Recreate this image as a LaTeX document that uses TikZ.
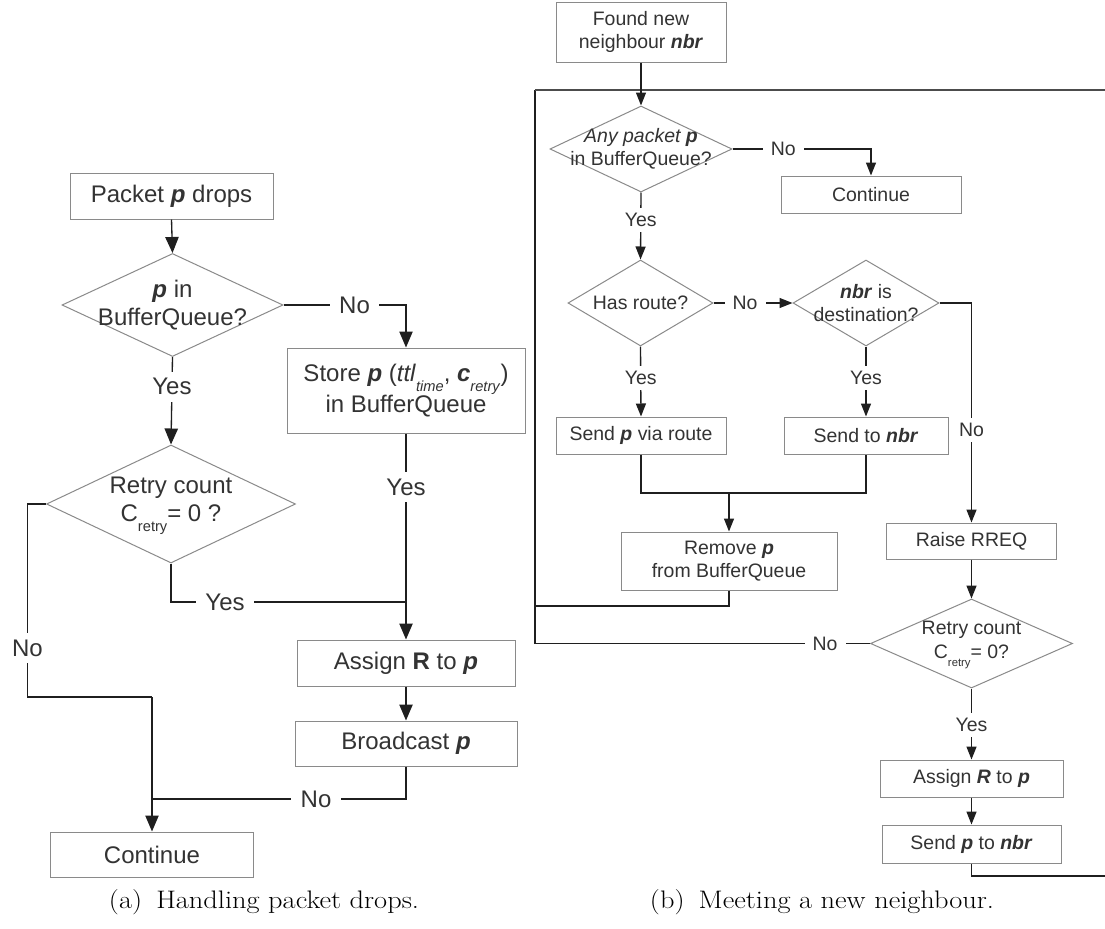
\documentclass[tikz,border=0pt]{standalone}
\usepackage{fontspec}
\newfontfamily\arial{Liberation Sans}
\usetikzlibrary{arrows.meta,shapes.geometric}
\definecolor{txt}{HTML}{333333}
\definecolor{edge}{HTML}{8A8A8A}
\newcommand\bi[1]{\textbf{\textit{#1}}}
\newcommand\lsub[1]{\raisebox{-0.42em}{\fontsize{11}{11}\selectfont #1}}
\newcommand\rsub[1]{\raisebox{-0.42em}{\fontsize{8.5}{8.5}\selectfont #1}}
\newcommand\captext[1]{\scalebox{1.12}[1]{#1}}

\tikzset{
  lfont/.style={font=\arial\fontsize{18}{21}\selectfont},
  rfont/.style={font=\arial\fontsize{14.6}{17.5}\selectfont},
  sz/.style 2 args={minimum width=#1*0.75pt, minimum height=#2*0.75pt},
  box/.style={draw=edge, line width=0.75pt, rectangle, inner sep=0pt, text=txt, align=center},
  dia/.style={draw=edge, line width=0.75pt, diamond, inner sep=0pt},
  dtext/.style={text=txt, align=center, inner sep=0pt},
  conn/.style={draw=black!88, line width=1pt},
  larr/.style={conn, -{Triangle[length=12pt,width=10pt]}},
  rarr/.style={conn, -{Triangle[length=9.75pt,width=7.5pt]}},
  llab/.style={lfont, fill=white, text=txt, inner xsep=7pt, inner ysep=5pt},
  rlab/.style={rfont, fill=white, text=txt, inner xsep=6pt, inner ysep=4pt},
  capt/.style={font=\fontsize{19}{21}\selectfont, inner sep=0pt},
}

\begin{document}
\begin{tikzpicture}[x=0.75pt, y=-0.75pt]
\fill[white] (0,0) rectangle (1105,928);
\useasboundingbox (0,0) rectangle (1105,928);

% ---------- (a) handling packet drops ----------
\node[box, lfont, sz={203}{46}] (pdrop) at (171.5,196) {Packet \bi{p} drops};
\node[dia, sz={221}{103}] (d1) at (172.5,305) {};
\node[dtext, lfont] (d1t) at (d1) {\bi{p} in\\BufferQueue?};
\node[box, lfont, sz={238}{85}] (store) at (406,390.5)
  {Store \bi{p} (\textit{ttl}\lsub{\textit{time}}, \bi{c}\lsub{\textit{retry}})\\in BufferQueue};
\node[dia, sz={249}{118}] (d2) at (171,504) {};
\node[dtext, lfont] (d2t) at (171,506) {Retry count\\C\lsub{retry}= 0 ?};
\node[box, lfont, sz={218}{46}] (assign) at (406,663) {Assign \textbf{R} to \bi{p}};
\node[box, lfont, sz={222}{45}] (bcast) at (406,743.5) {Broadcast \bi{p}};
\node[box, lfont, sz={203}{45}] (cont1) at (152,854.5) {Continue};

\coordinate (nl1) at (27.5,504);
\coordinate (nl2) at (27.5,697);
\coordinate (cj) at (152,697);
\coordinate (yj) at (406,602);

\draw[larr] (pdrop.south) -- (d1.north);
\draw[larr] (d1.east) -| node[llab, pos=0.29] {No} (store.north);
\draw[larr] (d1.south) -- node[llab, pos=0.34] {Yes} (d2.north);
\draw[conn] (d2.south) |- node[llab, pos=0.615] {Yes} (yj);
\draw[larr] (store.south) -- node[llab, pos=0.26] {Yes} (assign.north);
\draw[larr] (assign.south) -- (bcast.north);
\draw[conn] (d2.west) -- (nl1) -- node[llab, pos=0.746] {No} (nl2) -- (cj);
\draw[larr] (cj) -- (cont1.north);
\draw[conn] (bcast.south) |- node[llab, pos=0.677] {No} (cj |- 0,799);

% ---------- (b) meeting a new neighbour ----------
\node[box, rfont, sz={170}{60}] (found) at (641,32) {Found new\\neighbour \bi{nbr}};
\node[dia, sz={182}{86}] (r1) at (641,149) {};
\node[dtext, rfont] (r1t) at (r1) {\textit{Any packet \textbf{p}}\\in BufferQueue?};
\node[box, rfont, sz={180}{37}] (rcont) at (871,194.5) {Continue};
\node[dia, sz={145}{86}] (r2) at (640.5,303) {};
\node[dtext, rfont] (r2t) at (r2) {Has route?};
\node[dia, sz={146}{86}] (r3) at (866,303) {};
\node[dtext, rfont] (r3t) at (r3) {\bi{nbr} is\\destination?};
\node[box, rfont, sz={170}{37}] (via) at (641,435.5) {Send \bi{p} via route};
\node[box, rfont, sz={164}{37}] (sendnbr) at (866,435.5) {Send to \bi{nbr}};
\node[box, rfont, sz={216}{58}] (remove) at (729,561) {Remove \bi{p}\\from BufferQueue};
\node[box, rfont, sz={170}{36}] (rreq) at (971.5,541) {Raise RREQ};
\node[dia, sz={202}{89}] (r4) at (971.5,643.5) {};
\node[dtext, rfont] (r4t) at (971.5,645) {Retry count\\C\rsub{retry}= 0?};
\node[box, rfont, sz={183}{37}] (rassign) at (971.5,778.5) {Assign \bi{R} to \bi{p}};
\node[box, rfont, sz={179}{38}] (sendp) at (971.5,844) {Send \bi{p} to \bi{nbr}};

\coordinate (lTL) at (535,90);
\coordinate (lTR) at (1105,90);
\coordinate (lBL) at (535,643.5);
\coordinate (lBR) at (1105,876);
\coordinate (lRm) at (535,606);
\coordinate (mj) at (729,493);

% loop back to the first test
\draw[conn] (r4.west) -- node[rlab, pos=0.134] {No} (lBL) -- (lTL);
\draw[conn, draw=black!70, line width=1.3pt] (lTL) -- (lTR);
\draw[conn] (remove.south) |- (lRm);
\draw[conn] (sendp.south) |- (lBR);
\draw[rarr] (found.south) -- (r1.north);
\draw[rarr] (r1.east) -| node[rlab, pos=0.183] {No} (rcont.north);
\draw[rarr] (r1.south) -- node[rlab, pos=0.41] {Yes} (r2.north);
\draw[rarr] (r2.east) -- node[rlab, pos=0.4] {No} (r3.west);
\draw[rarr] (r2.south) -- node[rlab, pos=0.45] {Yes} (via.north);
\draw[rarr] (r3.south) -- node[rlab, pos=0.45] {Yes} (sendnbr.north);
\draw[rarr] (r3.east) -| node[rlab, pos=0.789] {No} (rreq.north);
\draw[conn] (via.south) |- (mj) -| (sendnbr.south);
\draw[rarr] (mj) -- (remove.north);
\draw[rarr] (rreq.south) -- (r4.north);
\draw[rarr] (r4.south) -- node[rlab, pos=0.51] {Yes} (rassign.north);
\draw[rarr] (rassign.south) -- (sendp.north);

% ---------- captions ----------
\node[capt] (capa) at (264,902) {\captext{(a)\hspace{0.5em}Handling packet drops.}};
\node[capt] (capb) at (822,902) {\captext{(b)\hspace{0.5em}Meeting a new neighbour.}};
\end{tikzpicture}
\end{document}
